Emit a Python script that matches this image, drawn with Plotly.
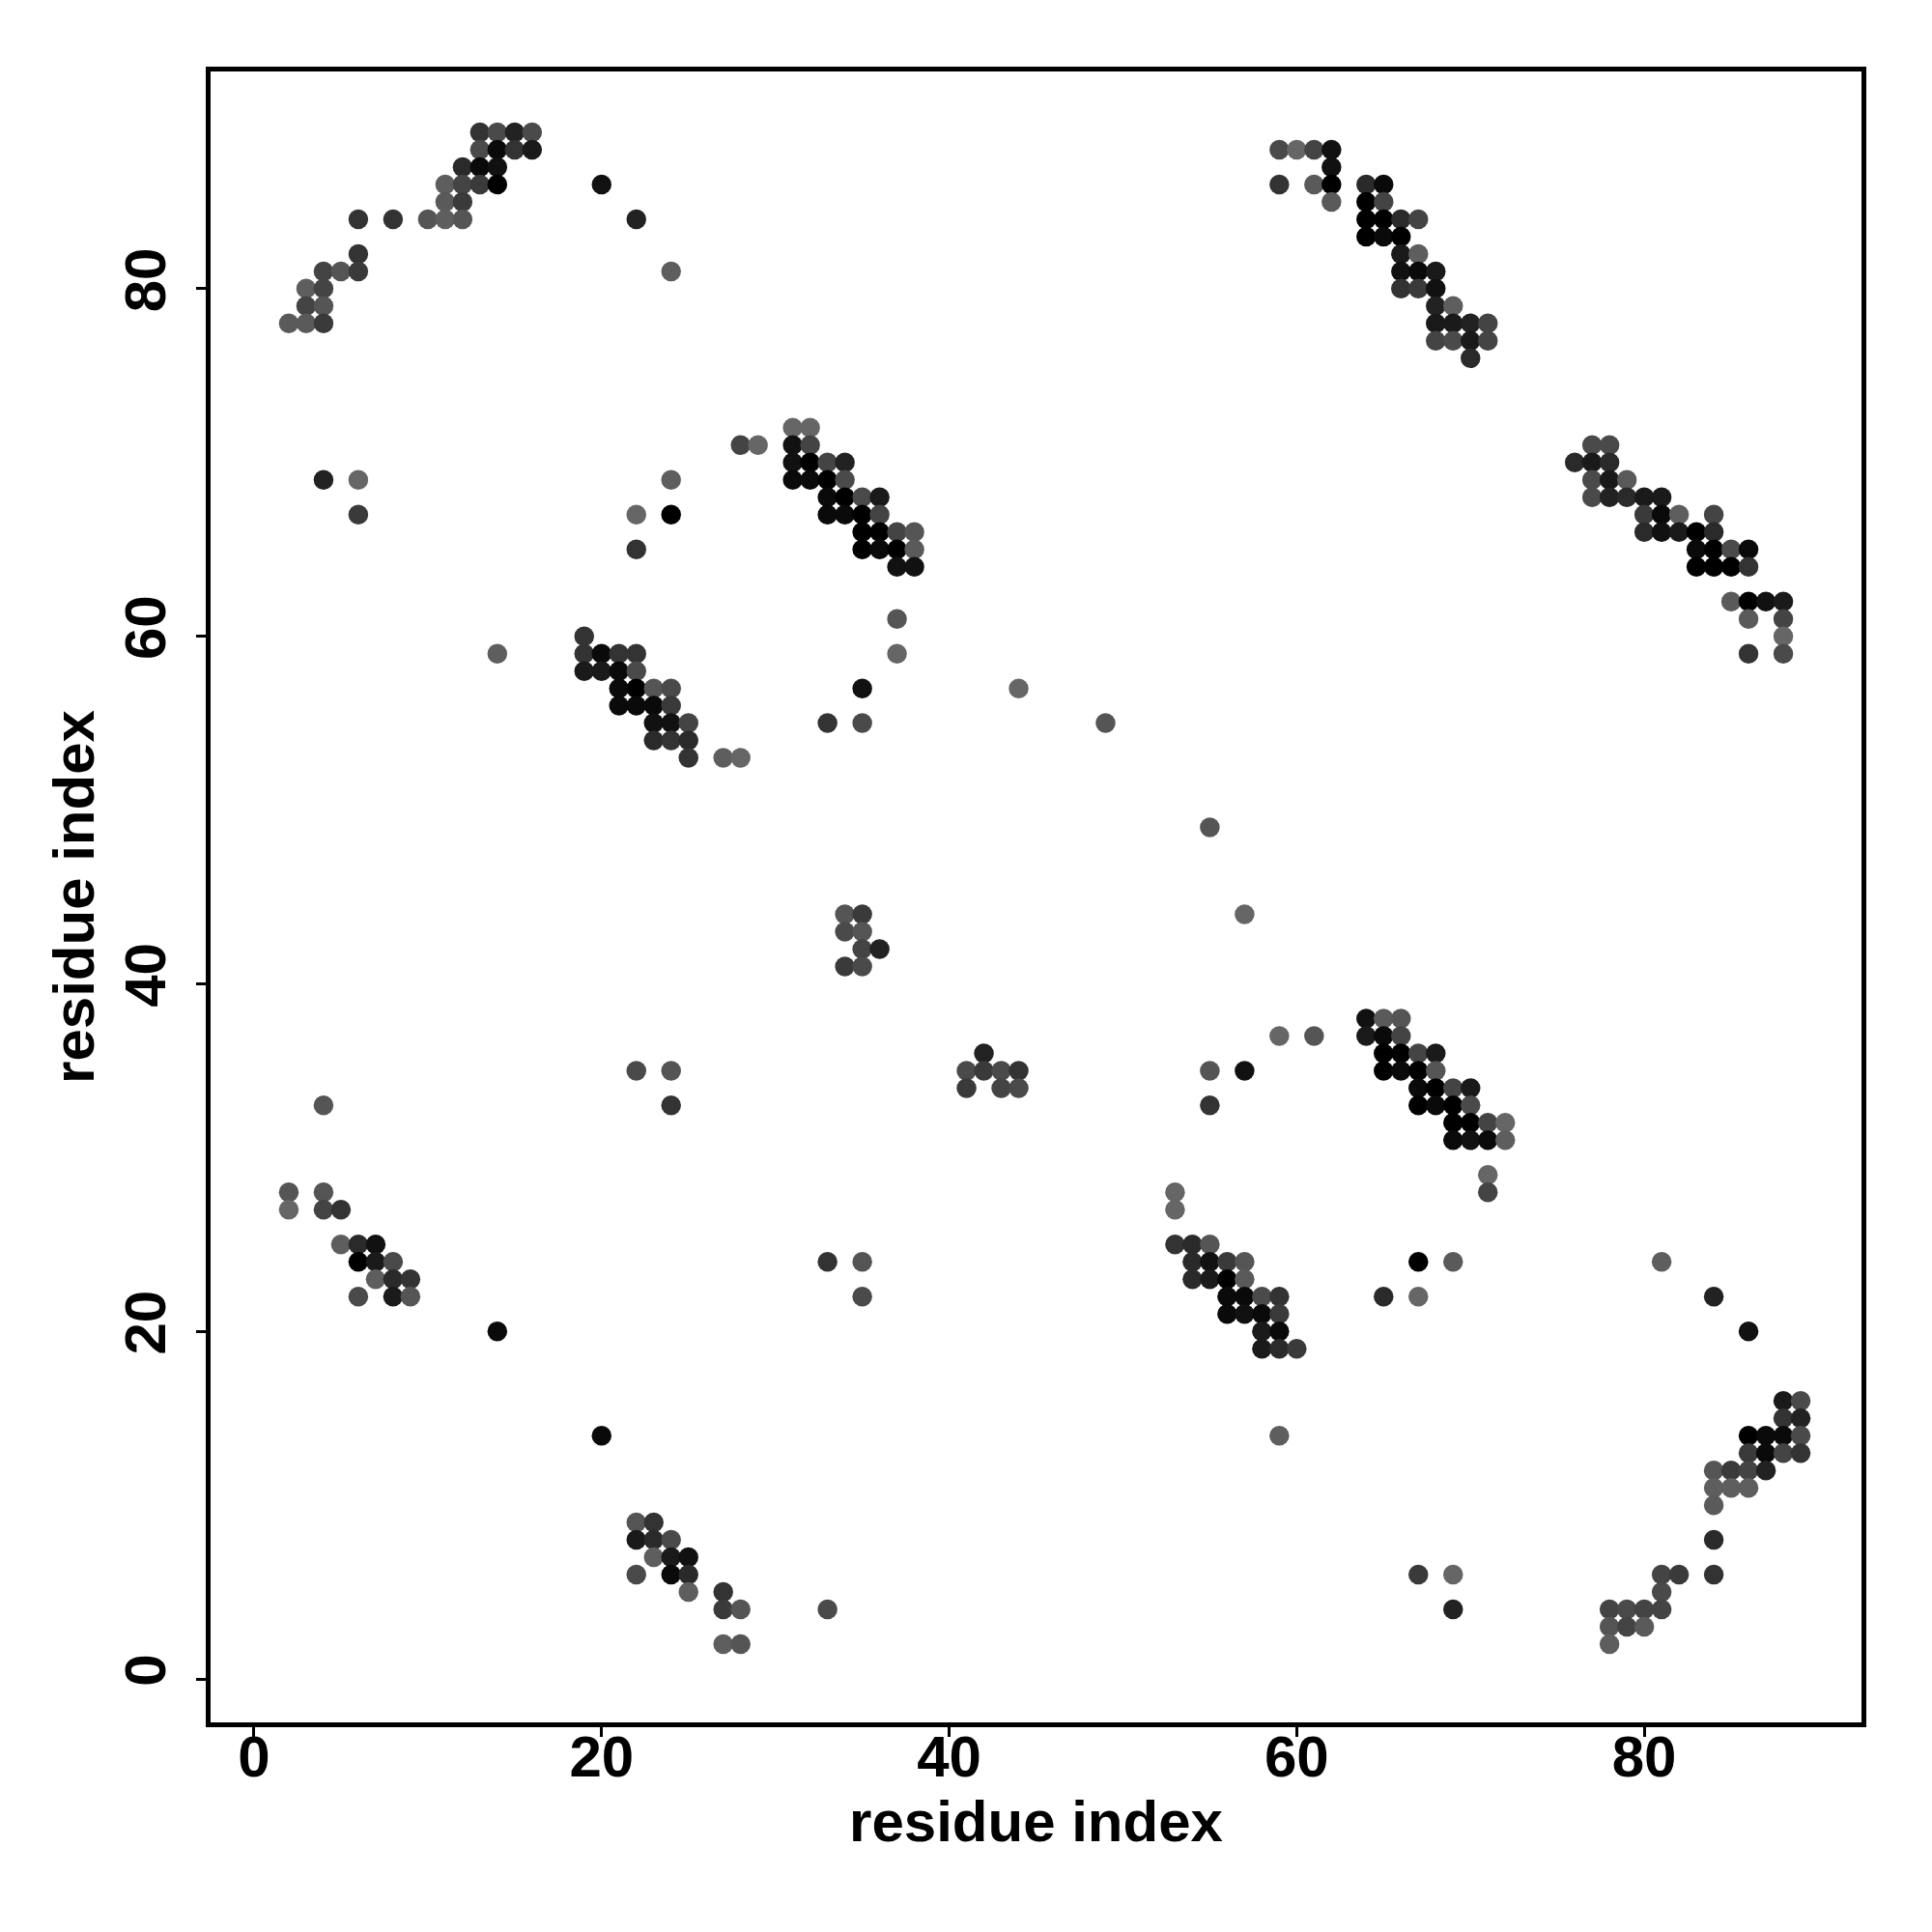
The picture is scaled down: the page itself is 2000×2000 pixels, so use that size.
import plotly.graph_objects as go

# contact map: residue i (x), residue j (y), grey shade (0 = black ... 255 = white)
res_x = [
    13, 14, 15, 16, 13, 14, 15, 16, 12, 13, 14, 11, 12, 13, 14, 20, 11, 12,
    6, 8, 10, 11, 12, 22, 6, 4, 5, 6, 24, 3, 4, 3, 4, 2, 3, 4,
    59, 60, 61, 62, 62, 59, 61, 62, 64, 65, 62, 64, 65, 64, 65, 66, 67, 64, 65, 66,
    66, 67, 66, 67, 68, 66, 67, 68, 68, 69, 68, 69, 70, 71, 68, 69, 70, 71, 70,
    77, 78, 76, 77, 78, 77, 78, 79, 77, 78, 79, 80, 81, 80, 81, 82, 84,
    80, 81, 82, 83, 84, 83, 84, 85, 86, 83, 84, 85, 86, 85, 86, 87, 88, 86, 88, 88, 86, 88,
    4, 6, 6, 24, 22, 24, 22, 14, 19, 19, 20, 21, 22, 19, 20, 21, 22,
    21, 22, 23, 24, 21, 22, 23, 24, 23, 24, 25, 23, 24, 25, 25, 27, 28,
    31, 32, 28, 29, 31, 32, 31, 32, 33, 34, 31, 32, 33, 34, 33, 34, 35, 36,
    33, 34, 35, 36, 35, 36, 37, 38, 35, 36, 37, 38, 37, 38, 37, 37,
    35, 44, 33, 35, 49, 55, 57, 34, 35, 34, 35, 35, 36, 34, 35,
    42, 41, 42, 43, 44, 41, 43, 44,
    64, 65, 66, 59, 61, 64, 65, 66, 65, 66, 67, 68, 55, 57, 65, 66, 67, 68,
    67, 68, 69, 70, 55, 67, 68, 69, 70, 69, 70, 71, 72, 69, 70, 71, 72, 71, 71, 53, 53,
    53, 54, 55, 54, 55, 56, 57, 67, 69, 54, 55, 56, 57, 56, 57, 58, 59, 65, 67,
    56, 57, 58, 59, 58, 59, 58, 59, 60, 59,
    22, 24, 24, 4, 2, 4, 2, 4, 5, 5, 6, 7, 6, 7, 8, 7, 8, 9, 6, 8, 9, 14, 20, 33, 35, 35,
    22, 23, 22, 23, 24, 23, 24, 25, 22, 24, 25, 25, 27, 27, 28, 33, 27, 28,
    81, 84, 86, 88, 89, 88, 89, 86, 87, 88, 89, 86, 87, 88, 89, 84, 85, 86, 87,
    84, 85, 86, 84, 84, 67, 69, 81, 82, 84, 81, 69, 78, 79, 80, 81, 78, 79, 80, 78,
]
res_y = [
    89, 89, 89, 89, 88, 88, 88, 88, 87, 87, 87, 86, 86, 86, 86, 86, 85, 85,
    84, 84, 84, 84, 84, 84, 82, 81, 81, 81, 81, 80, 80, 79, 79, 78, 78, 78,
    88, 88, 88, 88, 87, 86, 86, 86, 86, 86, 85, 85, 85, 84, 84, 84, 84, 83, 83, 83,
    82, 82, 81, 81, 81, 80, 80, 80, 79, 79, 78, 78, 78, 78, 77, 77, 77, 77, 76,
    71, 71, 70, 70, 70, 69, 69, 69, 68, 68, 68, 68, 68, 67, 67, 67, 67,
    66, 66, 66, 66, 66, 65, 65, 65, 65, 64, 64, 64, 64, 62, 62, 62, 62, 61, 61, 60, 59, 59,
    69, 69, 67, 69, 67, 67, 65, 59, 60, 59, 59, 59, 59, 58, 58, 58, 58,
    57, 57, 57, 57, 56, 56, 56, 56, 55, 55, 55, 54, 54, 54, 53, 53, 53,
    72, 72, 71, 71, 71, 71, 70, 70, 70, 70, 69, 69, 69, 69, 68, 68, 68, 68,
    67, 67, 67, 67, 66, 66, 66, 66, 65, 65, 65, 65, 64, 64, 61, 59,
    57, 57, 55, 55, 55, 49, 44, 44, 44, 43, 43, 42, 42, 41, 41,
    36, 35, 35, 35, 35, 34, 34, 34,
    38, 38, 38, 37, 37, 37, 37, 37, 36, 36, 36, 36, 35, 35, 35, 35, 35, 35,
    34, 34, 34, 34, 33, 33, 33, 33, 33, 32, 32, 32, 32, 31, 31, 31, 31, 29, 28, 28, 27,
    25, 25, 25, 24, 24, 24, 24, 24, 24, 23, 23, 23, 23, 22, 22, 22, 22, 22, 22,
    21, 21, 21, 21, 20, 20, 19, 19, 19, 14,
    35, 35, 33, 33, 28, 28, 27, 27, 27, 25, 25, 25, 24, 24, 24, 23, 23, 23, 22, 22, 22, 20, 14, 24, 24, 22,
    9, 9, 8, 8, 8, 7, 7, 7, 6, 6, 6, 5, 5, 4, 4, 4, 2, 2,
    24, 22, 20, 16, 16, 15, 15, 14, 14, 14, 14, 13, 13, 13, 13, 12, 12, 12, 12,
    11, 11, 11, 10, 8, 6, 6, 6, 6, 6, 5, 4, 4, 4, 4, 4, 3, 3, 3, 2,
]
shade = [
    51, 74, 34, 74, 74, 10, 51, 26, 42, 10, 17, 94, 68, 58, 0, 17, 90, 58,
    51, 51, 85, 94, 85, 34, 51, 68, 85, 58, 94, 94, 68, 68, 85, 90, 90, 58,
    74, 102, 68, 17, 17, 51, 90, 0, 42, 10, 90, 0, 68, 0, 0, 42, 68, 0, 10, 0,
    26, 94, 17, 10, 26, 51, 58, 17, 34, 94, 26, 26, 34, 68, 68, 74, 26, 68, 42,
    74, 74, 42, 26, 42, 74, 26, 90, 74, 34, 42, 26, 26, 58, 10, 94, 68,
    42, 17, 26, 0, 42, 10, 0, 74, 10, 0, 0, 0, 51, 90, 0, 17, 26, 90, 68, 102, 51, 74,
    34, 102, 58, 94, 102, 0, 51, 94, 51, 51, 10, 51, 51, 26, 26, 10, 74,
    10, 0, 85, 74, 10, 10, 10, 58, 17, 17, 68, 42, 51, 42, 51, 94, 102,
    102, 102, 68, 102, 17, 68, 17, 0, 68, 34, 10, 10, 0, 74, 10, 0, 74, 26,
    10, 10, 0, 68, 0, 0, 68, 85, 0, 10, 0, 90, 17, 17, 85, 102,
    17, 102, 51, 74, 85, 85, 102, 85, 58, 74, 85, 68, 34, 58, 74,
    34, 74, 58, 74, 51, 58, 68, 74,
    17, 90, 85, 102, 85, 26, 10, 68, 0, 0, 68, 26, 85, 17, 0, 10, 0, 85,
    10, 0, 68, 26, 51, 0, 10, 0, 74, 0, 0, 68, 102, 10, 17, 10, 94, 102, 68, 102, 102,
    51, 42, 85, 42, 17, 58, 85, 0, 90, 42, 26, 0, 90, 10, 10, 74, 51, 42, 102,
    10, 17, 10, 58, 26, 10, 26, 42, 58, 94,
    74, 85, 51, 85, 85, 85, 102, 68, 51, 94, 42, 17, 0, 26, 74, 94, 42, 51, 74, 26, 85, 10, 10, 51, 85, 74,
    85, 51, 26, 42, 74, 94, 26, 17, 74, 10, 42, 94, 51, 58, 85, 74, 94, 85,
    94, 34, 17, 26, 74, 51, 34, 0, 10, 10, 74, 58, 10, 68, 51, 85, 58, 68, 34,
    94, 94, 94, 90, 42, 58, 102, 68, 58, 51, 74, 34, 68, 74, 68, 68, 85, 68, 90, 94,
]
tick_values = [0, 20, 40, 60, 80]
axis_title = "residue index"

colors = [f"rgb({s},{s},{s})" for s in shade]

fig = go.Figure(
    go.Scatter(
        x=res_x, y=res_y, mode="markers",
        marker=dict(size=20.5, color=colors, line=dict(width=0)),
        hoverinfo="skip",
    )
)

tfont = dict(family="Liberation Sans, Arial, sans-serif", size=60, color="black", weight="bold")
hfont = dict(family="Liberation Sans, Arial, sans-serif", size=60, color="black", weight="bold")

common = dict(
    range=[-2.5, 92.5], tickvals=tick_values, ticks="outside", ticklen=10,
    tickwidth=3, tickcolor="black", showline=True, linewidth=5, linecolor="black",
    mirror=True, showgrid=False, zeroline=False, tickfont=tfont,
)

fig.update_layout(
    width=2000, height=2000,
    margin=dict(l=210, r=81, t=66, b=225),
    paper_bgcolor="white", plot_bgcolor="white", showlegend=False,
)
fig.update_xaxes(**common, ticklabelstandoff=-31,
                 title=dict(text=axis_title, font=hfont, standoff=10))
fig.update_yaxes(**common, tickangle=-90, ticklabelstandoff=8,
                 title=dict(text=axis_title, font=hfont, standoff=2))

fig.write_html("out.html")
